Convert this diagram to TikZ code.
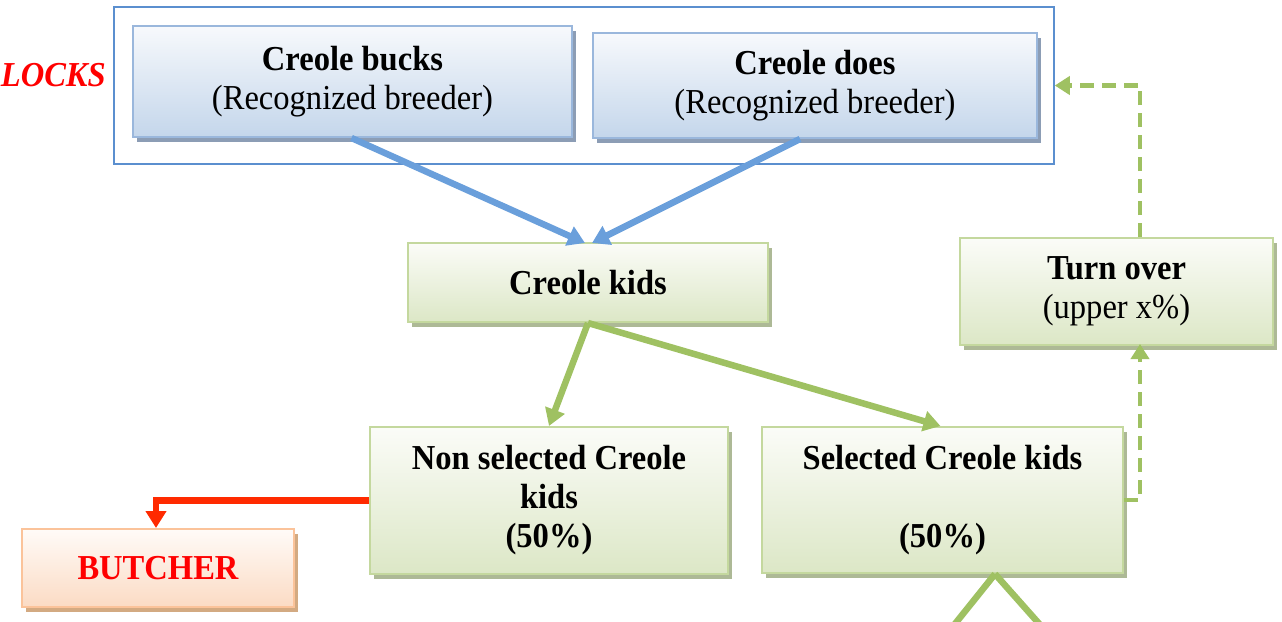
\documentclass[tikz,border=0pt]{standalone}
\usepackage{fontspec}
\setmainfont[FakeStretch=0.93]{Liberation Serif}
\usetikzlibrary{arrows.meta,shadows}
\definecolor{bluetop}{HTML}{F7F9FC}
\definecolor{bluebot}{HTML}{C4D6EB}
\definecolor{blueborder}{HTML}{9AB7DC}
\definecolor{blueshadow}{HTML}{8C9DB5}
\definecolor{greentop}{HTML}{FBFCF8}
\definecolor{greenbot}{HTML}{DCE7C6}
\definecolor{greenborder}{HTML}{C4D89E}
\definecolor{greenshadow}{HTML}{ADB996}
\definecolor{oratop}{HTML}{FFFBF8}
\definecolor{orabot}{HTML}{FBDBC4}
\definecolor{oraborder}{HTML}{FBC39A}
\definecolor{orashadow}{HTML}{D3AA82}
\definecolor{framecol}{HTML}{5B8FCF}
\definecolor{bluearrow}{HTML}{6A9FDB}
\definecolor{greenarrow}{HTML}{9FC162}
\definecolor{redarrow}{HTML}{FF2A00}
\definecolor{redtext}{HTML}{FF0000}
\tikzset{
  basebox/.style={draw, line width=2pt, inner sep=0pt, align=center,
    font=\fontsize{35}{39}\selectfont},
  bluebox/.style={basebox, draw=blueborder, top color=bluetop, bottom color=bluebot,
    drop shadow={shadow xshift=4pt, shadow yshift=-5pt, fill=blueshadow, opacity=1}},
  greenbox/.style={basebox, draw=greenborder, top color=greentop, bottom color=greenbot,
    drop shadow={shadow xshift=4pt, shadow yshift=-5pt, fill=greenshadow, opacity=1}},
  orabox/.style={basebox, draw=oraborder, top color=oratop, bottom color=orabot,
    drop shadow={shadow xshift=4pt, shadow yshift=-5pt, fill=orashadow, opacity=1}},
  tip/.style={-{Triangle[length=17pt,width=20pt]}},
  bluearr/.style={tip, draw=bluearrow, line width=6.5pt},
  greenarr/.style={tip, draw=greenarrow, line width=6.5pt},
  redarr/.style={tip, draw=redarrow, line width=6.5pt},
  dasharr/.style={-{Triangle[length=15pt,width=18pt]}, draw=greenarrow, line width=4.5pt, dash pattern=on 14pt off 8pt},
}
\begin{document}
\begin{tikzpicture}[x=1pt,y=-1pt]
\useasboundingbox (0,0) rectangle (1282,621);
\clip (0,0) rectangle (1282,621);
% frame of flocks
\node[draw=framecol, line width=1.5pt, minimum width=940pt, minimum height=157pt, inner sep=0pt] (flock) at (584,85.5) {};
\node[anchor=base east, text=redtext, font=\fontsize{35}{39}\selectfont\bfseries\itshape, inner sep=0pt] (flocks) at (106,86) {LOCKS};
% boxes
\node[bluebox, minimum width=439pt, minimum height=111pt] (bucks) at (352.5,81.5) {\textbf{Creole bucks}\\(Recognized breeder)};
\node[bluebox, minimum width=444pt, minimum height=105pt] (does) at (815,85.5) {\textbf{Creole does}\\(Recognized breeder)};
\node[greenbox, minimum width=360pt, minimum height=79pt] (kids) at (588,282.5) {\textbf{Creole kids}};
\node[greenbox, minimum width=313pt, minimum height=107pt] (turn) at (1116.5,291.5) {\textbf{Turn over}\\(upper x\%)};
\node[greenbox, minimum width=358pt, minimum height=147pt] (non) at (549,500.5) {\textbf{Non selected Creole}\\\textbf{kids}\\\textbf{(50\%)}};
\node[greenbox, minimum width=361pt, minimum height=146pt] (sel) at (942.5,500) {\textbf{Selected Creole kids}\\\mbox{}\\\textbf{(50\%)}};
\node[orabox, minimum width=272pt, minimum height=78pt, text=redtext, font=\fontsize{35}{39}\selectfont\bfseries] (butcher) at (158,568) {BUTCHER};
% off-canvas ends
\coordinate (offl) at (938,645);
\coordinate (offr) at (1058,645);
% connectors
\draw[bluearr] ([xshift=-1pt]bucks.south) -- ([xshift=-3pt,yshift=-1pt]kids.north);
\draw[bluearr] ([xshift=-15pt]does.south) -- ([xshift=4pt,yshift=-1pt]kids.north);
\draw[greenarr] (kids.south) -- (non.north);
\draw[greenarr] (kids.south) -- ([xshift=-2pt]sel.north);
\draw[redarr] (non.west) -| ([xshift=-2pt]butcher.north);
\draw[dasharr] (sel.east) -| ([xshift=23.5pt,yshift=2pt]turn.south);
\draw[dasharr] ([xshift=23.5pt]turn.north) |- (flock.east);
\draw[draw=greenarrow, line width=6.5pt] ([xshift=52.5pt]sel.south) -- (offl);
\draw[draw=greenarrow, line width=6.5pt] ([xshift=52.5pt]sel.south) -- (offr);
\end{tikzpicture}
\end{document}
